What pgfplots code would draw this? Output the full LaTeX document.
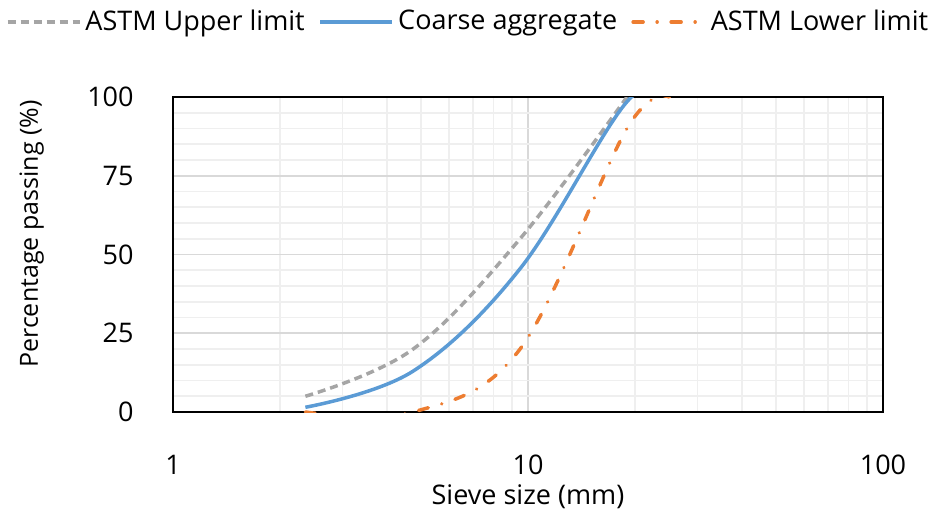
\documentclass[border=0pt]{standalone}
\usepackage{fontspec}
\setmainfont{Open Sans}
\usepackage{pgfplots}
\pgfplotsset{compat=1.18}

\definecolor{upgrey}{HTML}{A5A5A5}
\definecolor{aggblue}{HTML}{5B9BD5}
\definecolor{loworange}{HTML}{ED7D31}
\definecolor{gridmajor}{HTML}{D9D9D9}
\definecolor{gridminor}{HTML}{EFEFEF}

\begin{document}
\fontsize{13.5}{16}\selectfont
\begin{tikzpicture}
% fixed page size (936x521 px at 0.5pt/px)
\path[use as bounding box] (-86.5pt,-54.5pt) rectangle (381.5pt,206pt);
\begin{axis}[
    at={(0,0)}, anchor=south west,
    scale only axis, width=355pt, height=157.5pt,
    xmode=log, log basis x=10,
    xmin=1, xmax=100, ymin=0, ymax=100,
    xtick={1,10,100}, xticklabels={1,10,100},
    minor xtick={2,3,4,5,6,7,8,9,20,30,40,50,60,70,80,90},
    ytick={0,25,50,75,100},
    minor y tick num=4,
    major tick length=0pt, minor tick length=0pt,
    grid=both,
    major grid style={gridmajor,line width=0.8pt},
    minor grid style={gridminor,line width=0.8pt},
    axis line style={black,line width=1.2pt},
    /pgf/number format/assume math mode=true,
    ticklabel style={font=\fontsize{13.5}{16}\selectfont},
    xticklabel style={yshift=-17pt},
    yticklabel style={xshift=-15pt},
    xlabel={Sieve size (mm)},
    ylabel={Percentage passing (\%)},
    xlabel style={font=\fontsize{13.5}{16}\selectfont,at={(rel axis cs:0.5,-0.27)},anchor=center},
    ylabel style={font=\fontsize{12.5}{15}\selectfont,at={(rel axis cs:-0.199,0.565)},anchor=center,rotate=0},
    legend columns=3,
    legend style={at={(rel axis cs:0.417,1.238)},anchor=center,draw=none,fill=none,
        font=\fontsize{13.5}{16}\selectfont,
        /tikz/every even column/.append style={column sep=5pt}},
    legend image code/.code={\draw[#1] (0pt,0pt) -- (36pt,0pt);},
    legend cell align=left,
]
\addplot[upgrey,line width=1.75pt,smooth,tension=0.6,dash pattern=on 4pt off 2.5pt] coordinates {
    (2.36,5) (4.75,20) (9.5,55) (19,100)
};
\addlegendentry{ASTM Upper limit}
\addplot[aggblue,line width=1.75pt,smooth,tension=0.6] coordinates {
    (2.36,1.5) (4.75,13) (9.5,45.5) (19,98.5) (25,100)
};
\addlegendentry{Coarse aggregate}
\addplot[loworange,line width=1.75pt,smooth,tension=0.6,line cap=round,
    dash pattern=on 5pt off 7pt on 0.01pt off 7pt] coordinates {
    (2.36,0) (4.75,0) (9.5,20) (19,90) (25,100)
};
\addlegendentry{ASTM Lower limit}
\end{axis}
\end{tikzpicture}
\end{document}
